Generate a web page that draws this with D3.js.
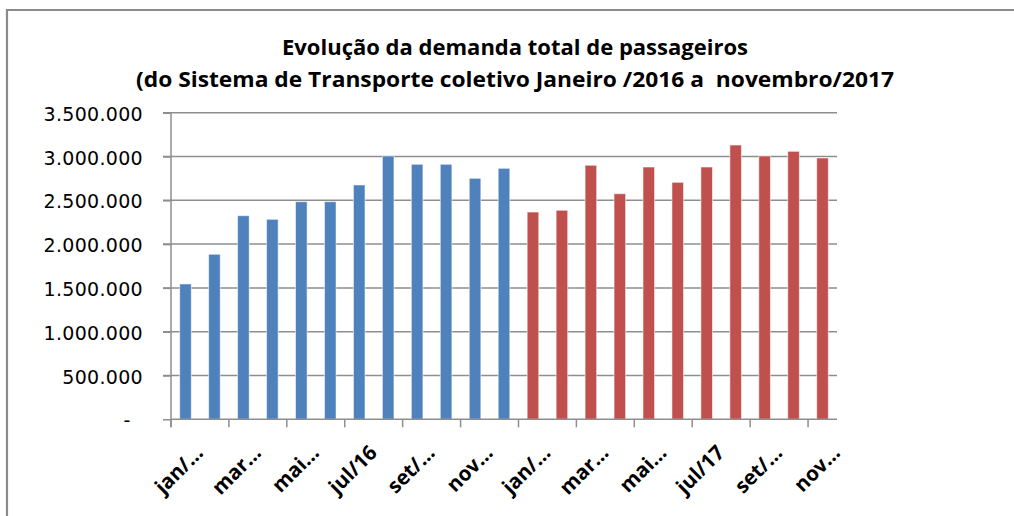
<!DOCTYPE html>
<html><head><meta charset="utf-8">
<script src="https://cdn.jsdelivr.net/npm/d3@7/dist/d3.min.js"></script>
<style>body{margin:0;background:#fff} svg{display:block;background:#fff} .ttl{white-space:pre}</style>
</head><body>
<svg id="chart" width="1014" height="516"></svg>
<script>
// ---- data ----
const months = ["jan/16","fev/16","mar/16","abr/16","mai/16","jun/16","jul/16","ago/16","set/16","out/16","nov/16","dez/16",
                "jan/17","fev/17","mar/17","abr/17","mai/17","jun/17","jul/17","ago/17","set/17","out/17","nov/17"];
const values2016 = [1545000,1884000,2324000,2283000,2484000,2484000,2675000,3006000,2911000,2911000,2751000,2865000];
const values2017 = [2366000,2386000,2900000,2575000,2880000,2705000,2880000,3131000,3006000,3059000,2983000];
const yTicks = [0,500000,1000000,1500000,2000000,2500000,3000000,3500000];
const xTickLabels = ["jan/…","mar…","mai…","jul/16","set/…","nov…","jan/…","mar…","mai…","jul/17","set/…","nov…"];
const titleLines = ["Evolução da demanda total de passageiros",
                    "(do Sistema de Transporte coletivo Janeiro /2016 a\u00a0 novembro/2017"];
const colors = {y2016:"#4F81BD", y2017:"#C0504D"};

const data = months.map((m,i)=>({
  month:m,
  value: i<12 ? values2016[i] : values2017[i-12],
  series: i<12 ? "y2016" : "y2017"
}));

const svg = d3.select("#chart");
const plot = {left:171, right:837, top:112.7, bottom:419.3};

// frame
svg.append("path").attr("d",`M7,516 L7,10 L1014,10`)
  .attr("fill","none").attr("stroke","#8a8a8a").attr("stroke-width",2.2);

// title
const tl = svg.append("g").attr("font-family","'Open Sans', sans-serif").attr("font-weight",700)
  .attr("font-size",21.5).attr("fill","#000");
const titleWidths=[466,758];
const titleBase=[55,87];
titleLines.forEach((t,i)=>{
  tl.append("text").attr("class","ttl").attr("x",515).attr("y",titleBase[i]).attr("text-anchor","middle")
    .attr("textLength",titleWidths[i]).attr("lengthAdjust","spacingAndGlyphs").text(t);
});

const x = d3.scaleBand().domain(months).range([plot.left,plot.right]).paddingInner(0.6).paddingOuter(0.3);
const y = d3.scaleLinear().domain([0,3500000]).range([plot.bottom,plot.top]);

const fmt = d3.formatLocale({decimal:",",thousands:".",grouping:[3],currency:["R$",""]}).format(",.0f");

// gridlines
svg.append("g").selectAll("line").data(yTicks.slice(1)).join("line")
  .attr("x1",plot.left-8).attr("x2",plot.right)
  .attr("y1",d=>y(d)).attr("y2",d=>y(d))
  .attr("stroke","#8e8e8e").attr("stroke-width",1.5);

// y axis
const yAxis = svg.append("g").attr("transform",`translate(${plot.left},0)`)
  .call(d3.axisLeft(y).tickValues(yTicks).tickSize(8).tickPadding(20)
    .tickFormat(d=> d===0 ? "-\u2007" : fmt(d)));
yAxis.select(".domain").remove();
yAxis.selectAll(".tick line").attr("stroke","#8e8e8e").attr("stroke-width",1.5);
yAxis.selectAll(".tick text").attr("font-family","'DejaVu Sans', sans-serif").attr("font-size",19)
  .attr("letter-spacing",0.3).attr("fill","#000").attr("x",-28).attr("dy","0.4em");
svg.append("line").attr("x1",plot.left).attr("x2",plot.left).attr("y1",plot.top).attr("y2",plot.bottom+8)
  .attr("stroke","#8e8e8e").attr("stroke-width",1.5);

// bars
svg.append("g").selectAll("rect").data(data).join("rect")
  .attr("x",d=>x(d.month)).attr("width",x.bandwidth())
  .attr("y",d=>y(d.value)).attr("height",d=>y(0)-y(d.value))
  .attr("fill",d=>colors[d.series])
  .attr("stroke","#ffffff").attr("stroke-opacity",0.55).attr("stroke-width",1);

// x axis
svg.append("line").attr("x1",plot.left).attr("x2",plot.right).attr("y1",y(0)).attr("y2",y(0))
  .attr("stroke","#8e8e8e").attr("stroke-width",1.5);
const tickIdx = months.map((m,i)=>i).filter(i=>i%2===0);
svg.append("g").selectAll("line").data(tickIdx).join("line")
  .attr("x1",i=>x(months[i])-x.bandwidth()*0.75).attr("x2",i=>x(months[i])-x.bandwidth()*0.75)
  .attr("y1",y(0)).attr("y2",y(0)+8)
  .attr("stroke","#8e8e8e").attr("stroke-width",1.5);

svg.append("g").selectAll("text").data(tickIdx).join("text")
  .attr("transform",(i)=>{
    const cx = x(months[i]) + x.bandwidth()/2 + 19;
    return `translate(${cx},454) rotate(-45)`;
  })
  .attr("text-anchor","end")
  .attr("font-family","'Open Sans', sans-serif").attr("font-weight",700).attr("font-size",20.5)
  .attr("fill","#000")
  .text((i,k)=>xTickLabels[k]);
</script>
</body></html>
